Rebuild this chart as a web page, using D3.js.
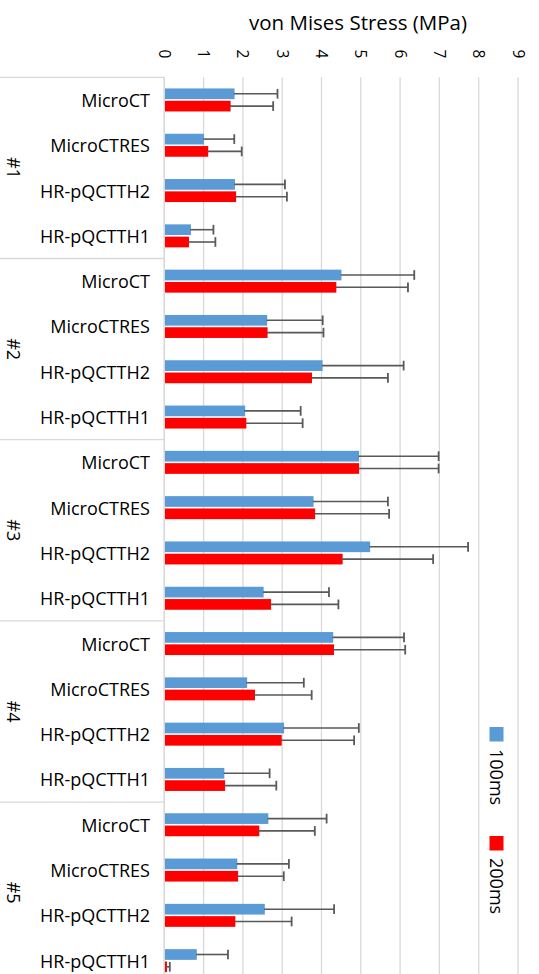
<!DOCTYPE html>
<html>
<head>
<meta charset="utf-8">
<script src="https://cdn.jsdelivr.net/npm/d3@7"></script>
<style>
  html, body { margin: 0; padding: 0; background: #fff; overflow: hidden; }
  svg { display: block; font-family: "Open Sans", sans-serif; }
</style>
</head>
<body>
<div id="chart"></div>
<script>
// ---- data ----
const groups = ["#1", "#2", "#3", "#4", "#5"];
const categories = ["MicroCT", "MicroCTRES", "HR-pQCTTH2", "HR-pQCTTH1"];
const seriesNames = ["100ms", "200ms"];
const seriesColors = ["#5B9BD5", "#FF0000"];
const xTicks = [0, 1, 2, 3, 4, 5, 6, 7, 8, 9];
const axisTitle = "von Mises Stress (MPa)";

// values ordered group by group, category by category
const values100 = [
  1.77, 0.99, 1.78, 0.66,
  4.49, 2.60, 4.01, 2.04,
  4.94, 3.78, 5.22, 2.51,
  4.28, 2.09, 3.03, 1.51,
  2.63, 1.84, 2.54, 0.81
];
const errors100 = [
  1.11, 0.79, 1.29, 0.59,
  1.87, 1.43, 2.08, 1.43,
  2.04, 1.91, 2.51, 1.68,
  1.82, 1.46, 1.92, 1.17,
  1.50, 1.33, 1.78, 0.81
];
const values200 = [
  1.67, 1.10, 1.81, 0.61,
  4.36, 2.61, 3.74, 2.07,
  4.94, 3.82, 4.52, 2.70,
  4.30, 2.29, 2.97, 1.53,
  2.40, 1.86, 1.79, 0.05
];
const errors200 = [
  1.10, 0.87, 1.31, 0.69,
  1.84, 1.44, 1.95, 1.45,
  2.04, 1.90, 2.32, 1.73,
  1.83, 1.46, 1.86, 1.32,
  1.43, 1.18, 1.45, 0.09
];

// ---- layout ----
const W = 539, H = 974;
const x0 = 164.3, x9 = 518;
const plotTop = 77.3, groupStep = 181.2;
const plotBottom = plotTop + groupStep * groups.length;
const gridColor = "#d9d9d9";
const errColor = "#595959";
const FONT = 18;

const svg = d3.select("#chart").append("svg")
  .attr("width", W).attr("height", H);

const x = d3.scaleLinear().domain([0, 9]).range([x0, x9]);

const rows = [];
groups.forEach((g, gi) => categories.forEach((c, ci) => {
  const i = gi * categories.length + ci;
  rows.push({ key: g + "|" + c, group: g, cat: c,
    vals: [
      { s: 0, v: values100[i], e: errors100[i] },
      { s: 1, v: values200[i], e: errors200[i] }
    ] });
}));

const yRow = d3.scaleBand().domain(rows.map(d => d.key))
  .range([plotTop, plotBottom]).padding(0);
const yGroup = d3.scaleBand().domain(groups)
  .range([plotTop, plotBottom]).padding(0);
const bw = yRow.bandwidth();
const ySeries = d3.scaleBand().domain([0, 1])
  .range([bw / 2 - 11.5, bw / 2 + 11.5]).paddingInner(0.13);

// gridlines
svg.append("g").selectAll("line").data(xTicks).join("line")
  .attr("x1", d => x(d)).attr("x2", d => x(d))
  .attr("y1", plotTop).attr("y2", plotBottom)
  .attr("stroke", gridColor).attr("stroke-width", 1.3);

// left label box: group separators
svg.append("g").selectAll("line").data(groups.concat(["end"])).join("line")
  .attr("x1", 0).attr("x2", x0)
  .attr("y1", (d, i) => plotTop + i * yGroup.bandwidth())
  .attr("y2", (d, i) => plotTop + i * yGroup.bandwidth())
  .attr("stroke", gridColor).attr("stroke-width", 1.3);

// top axis with rotated tick labels
const axis = svg.append("g")
  .attr("transform", "translate(0,0)")
  .call(d3.axisTop(x).tickValues(xTicks).tickSize(0).tickFormat(d3.format("d")));
axis.select(".domain").remove();
axis.selectAll("text")
  .attr("x", 0).attr("y", 0).attr("dy", null)
  .attr("transform", "translate(0,54) rotate(90)")
  .attr("text-anchor", "middle")
  .attr("dominant-baseline", "central")
  .attr("font-size", 15.5)
  .attr("font-family", "Open Sans, sans-serif")
  .attr("fill", "#000");

// axis title
svg.append("text")
  .attr("x", 358).attr("y", 22)
  .attr("text-anchor", "middle").attr("dominant-baseline", "central")
  .attr("font-size", 20.5).attr("fill", "#000")
  .text(axisTitle);

// category labels
svg.append("g").selectAll("text").data(rows).join("text")
  .attr("x", 150)
  .attr("y", d => yRow(d.key) + bw / 2)
  .attr("text-anchor", "end").attr("dominant-baseline", "central")
  .attr("font-size", FONT).attr("fill", "#000")
  .text(d => d.cat);

// group labels (rotated)
svg.append("g").selectAll("text").data(groups).join("text")
  .attr("transform", d => `translate(14,${yGroup(d) + yGroup.bandwidth() / 2}) rotate(90)`)
  .attr("text-anchor", "middle").attr("dominant-baseline", "central")
  .attr("font-size", FONT).attr("fill", "#000")
  .text(d => d);

// bars
const rowG = svg.append("g").selectAll("g").data(rows).join("g")
  .attr("transform", d => `translate(0,${yRow(d.key)})`);

rowG.selectAll("rect").data(d => d.vals).join("rect")
  .attr("x", x(0) + 0.7)
  .attr("y", d => ySeries(d.s))
  .attr("width", d => x(d.v) - x(0))
  .attr("height", ySeries.bandwidth())
  .attr("fill", d => seriesColors[d.s]);

// error bars
const eb = rowG.selectAll("g.err").data(d => d.vals).join("g").attr("class", "err");
eb.append("line")
  .attr("x1", d => x(d.v)).attr("x2", d => x(d.v + d.e))
  .attr("y1", d => ySeries(d.s) + ySeries.bandwidth() / 2)
  .attr("y2", d => ySeries(d.s) + ySeries.bandwidth() / 2)
  .attr("stroke", errColor).attr("stroke-width", 1.6);
eb.append("line")
  .attr("x1", d => x(d.v + d.e)).attr("x2", d => x(d.v + d.e))
  .attr("y1", d => ySeries(d.s) + 0.5)
  .attr("y2", d => ySeries(d.s) + ySeries.bandwidth() - 0.5)
  .attr("stroke", errColor).attr("stroke-width", 1.8);

// axis line at 0
svg.append("line")
  .attr("x1", x(0)).attr("x2", x(0))
  .attr("y1", plotTop).attr("y2", plotBottom)
  .attr("stroke", gridColor).attr("stroke-width", 1.3);

// legend (rotated)
const legend = svg.append("g");
const legY = [727, 836];
seriesNames.forEach((name, i) => {
  legend.append("rect")
    .attr("x", 489.5).attr("y", legY[i])
    .attr("width", 14).attr("height", 14.5)
    .attr("fill", seriesColors[i]);
  legend.append("text")
    .attr("transform", `translate(496.5,${legY[i] + 22}) rotate(90)`)
    .attr("text-anchor", "start").attr("dominant-baseline", "central")
    .attr("font-size", FONT).attr("fill", "#000")
    .text(name);
});
</script>
</body>
</html>
